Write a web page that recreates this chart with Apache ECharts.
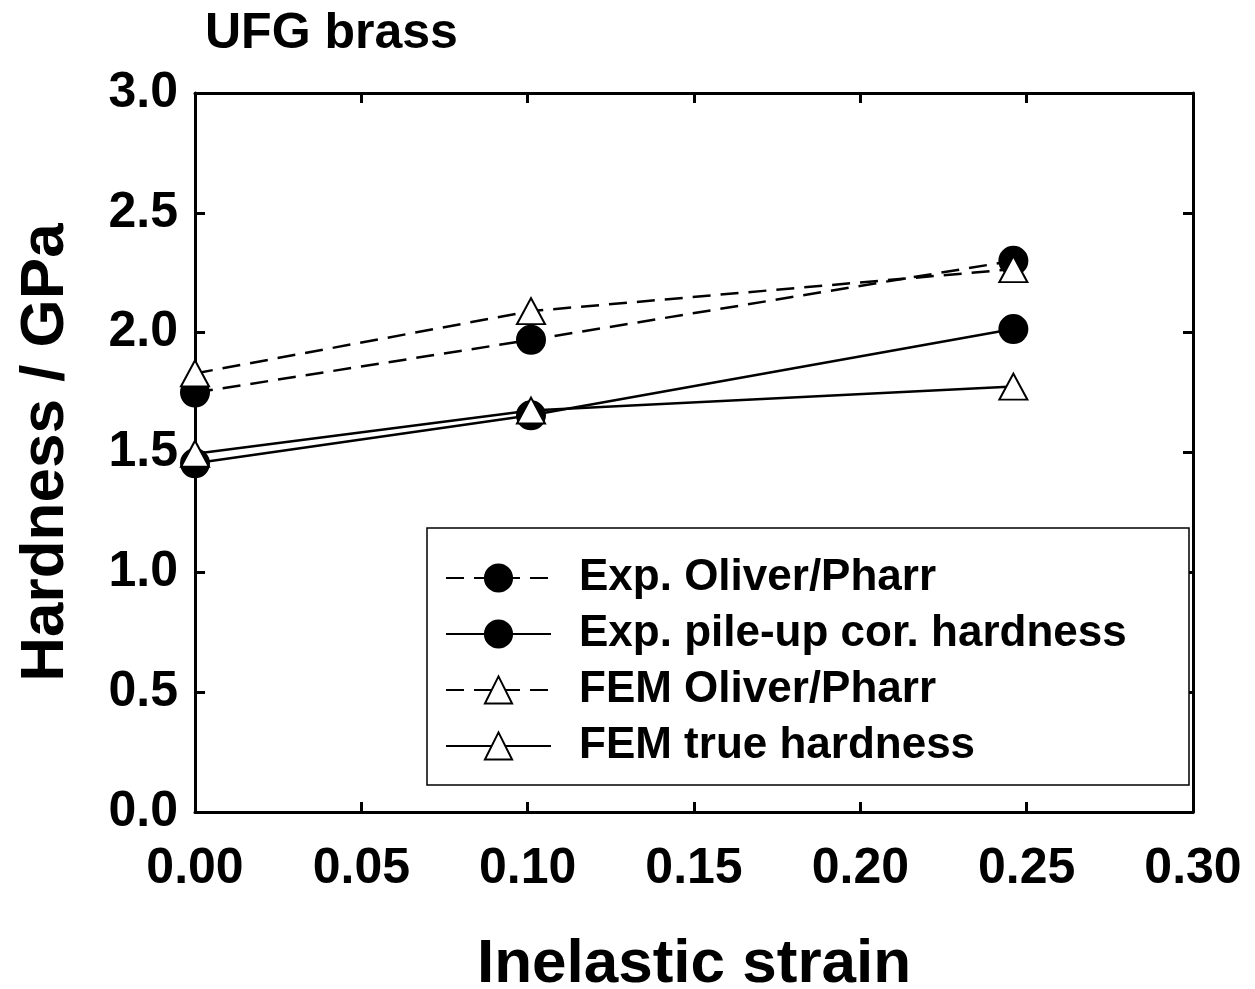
<!DOCTYPE html>
<html>
<head>
<meta charset="utf-8">
<script src="https://cdn.jsdelivr.net/npm/echarts@6/dist/echarts.min.js"></script>
<style>
  html, body { margin: 0; padding: 0; background: #fff; }
  #chart { width: 1255px; height: 989px; }
</style>
</head>
<body>
<div id="chart"></div>
<script>
const strain = [0, 0.101, 0.246]
const expOliverPharr = [1.75, 1.97, 2.30]
const expPileUp = [1.455, 1.655, 2.015]
const femOliverPharr = [1.83, 2.09, 2.265]
const femTrue = [1.495, 1.675, 1.775]
const seriesNames = ['Exp. Oliver/Pharr', 'Exp. pile-up cor. hardness', 'FEM Oliver/Pharr', 'FEM true hardness']

const font = 'Liberation Sans, Arial, sans-serif'
const pairs = (ys) => strain.map((x, i) => [x, ys[i]])

const chart = echarts.init(document.getElementById('chart'))

const makeSeries = (name, ys, symbol, dashed) => ({
  name,
  type: 'line',
  data: pairs(ys),
  symbol,
  symbolSize: symbol === 'circle' ? 28 : [28, 26],
  showSymbol: true,
  z: symbol === 'circle' ? 3 : 4,
  lineStyle: { color: '#000', width: 2.5, type: dashed ? [18, 10] : 'solid' },
  itemStyle: {
    color: symbol === 'circle' ? '#000' : '#fff',
    borderColor: '#000',
    borderWidth: 2
  },
  emphasis: { disabled: true }
})

const axisCommon = {
  axisLine: { show: true, onZero: false, lineStyle: { color: '#000', width: 3 } },
  axisTick: { show: true, inside: true, length: 10, lineStyle: { color: '#000', width: 3 } },
  splitLine: { show: false }
}

chart.setOption({
  animation: false,
  title: {
    text: 'UFG brass',
    left: 200,
    top: 4,
    textStyle: { fontFamily: font, fontSize: 50, fontWeight: 'bold', color: '#000' }
  },
  grid: { left: 195, top: 93, width: 998, height: 719, outerBoundsMode: 'none', containLabel: false },
  graphic: [
    {
      type: 'rect',
      shape: { x: 427, y: 528, width: 762, height: 257 },
      style: { fill: '#fff', stroke: '#000', lineWidth: 1.5 },
      z: 10
    }
  ],
  legend: {
    data: seriesNames,
    orient: 'vertical',
    left: 445,
    top: 556,
    padding: 0,
    itemGap: 12,
    itemWidth: 105,
    itemHeight: 34,
    z: 20,
    textStyle: {
      fontFamily: font,
      fontSize: 44,
      fontWeight: 'bold',
      color: '#000',
      lineHeight: 44,
      padding: [0, 0, 0, 23]
    },
    selectedMode: false
  },
  xAxis: [
    {
      ...axisCommon,
      type: 'value',
      min: 0,
      max: 0.3,
      interval: 0.05,
      name: 'Inelastic strain',
      nameLocation: 'middle',
      nameGap: 122,
      nameTextStyle: { fontFamily: font, fontSize: 62, fontWeight: 'bold', color: '#000' },
      axisLabel: {
        margin: 32,
        fontFamily: font,
        fontSize: 50,
        fontWeight: 'bold',
        color: '#000',
        formatter: (v) => v.toFixed(2)
      }
    },
    {
      ...axisCommon,
      type: 'value',
      position: 'top',
      min: 0,
      max: 0.3,
      interval: 0.05,
      axisLabel: { show: false }
    }
  ],
  yAxis: [
    {
      ...axisCommon,
      type: 'value',
      min: 0,
      max: 3,
      interval: 0.5,
      name: 'Hardness / GPa',
      nameLocation: 'middle',
      nameGap: 118,
      nameTextStyle: { fontFamily: font, fontSize: 62, fontWeight: 'bold', color: '#000' },
      axisLabel: {
        margin: 17,
        fontFamily: font,
        fontSize: 50,
        fontWeight: 'bold',
        color: '#000',
        formatter: (v) => v.toFixed(1)
      }
    },
    {
      ...axisCommon,
      type: 'value',
      position: 'right',
      min: 0,
      max: 3,
      interval: 0.5,
      axisLabel: { show: false }
    }
  ],
  series: [
    makeSeries(seriesNames[0], expOliverPharr, 'circle', true),
    makeSeries(seriesNames[1], expPileUp, 'circle', false),
    makeSeries(seriesNames[2], femOliverPharr, 'triangle', true),
    makeSeries(seriesNames[3], femTrue, 'triangle', false)
  ]
})
</script>
</body>
</html>
